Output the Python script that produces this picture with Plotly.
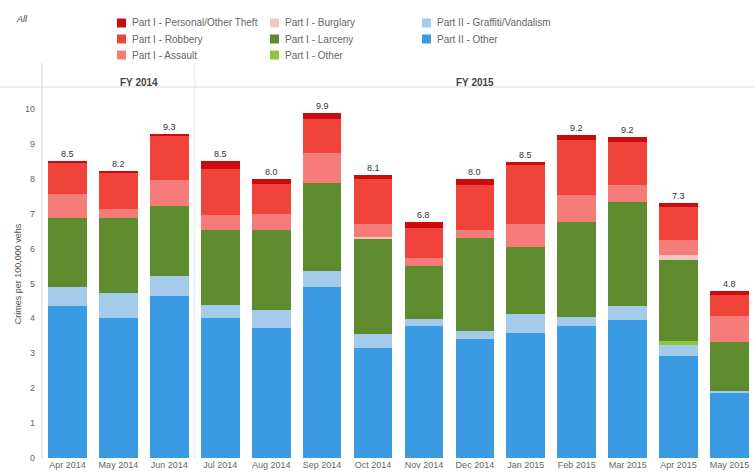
import plotly.graph_objects as go

months = ["Apr 2014", "May 2014", "Jun 2014", "Jul 2014", "Aug 2014", "Sep 2014", "Oct 2014",
          "Nov 2014", "Dec 2014", "Jan 2015", "Feb 2015", "Mar 2015", "Apr 2015", "May 2015"]

# stacked from bottom to top
part2_other   = [4.36, 4.00, 4.64, 4.00, 3.72, 4.89, 3.14, 3.78, 3.40, 3.59, 3.78, 3.95, 2.92, 1.85]
part2_graffiti= [0.53, 0.72, 0.56, 0.38, 0.52, 0.48, 0.40, 0.19, 0.25, 0.53, 0.25, 0.39, 0.32, 0.07]
part1_other   = [0.00, 0.00, 0.00, 0.00, 0.00, 0.00, 0.00, 0.00, 0.00, 0.00, 0.00, 0.00, 0.10, 0.00]
part1_larceny = [1.98, 2.15, 2.03, 2.15, 2.29, 2.52, 2.75, 1.53, 2.64, 1.93, 2.72, 2.99, 2.33, 1.41]
part1_burglary= [0.00, 0.00, 0.00, 0.00, 0.00, 0.00, 0.05, 0.00, 0.00, 0.00, 0.00, 0.00, 0.15, 0.00]
part1_assault = [0.69, 0.26, 0.74, 0.43, 0.46, 0.84, 0.36, 0.22, 0.24, 0.65, 0.79, 0.49, 0.43, 0.74]
part1_robbery = [0.88, 1.06, 1.24, 1.32, 0.85, 0.97, 1.29, 0.87, 1.29, 1.70, 1.57, 1.24, 0.95, 0.60]
part1_personal= [0.07, 0.03, 0.07, 0.24, 0.15, 0.18, 0.12, 0.17, 0.17, 0.09, 0.13, 0.12, 0.10, 0.12]

series = [
    ("Part II - Other", part2_other, "#3a9be2"),
    ("Part II - Graffiti/Vandalism", part2_graffiti, "#a5cbea"),
    ("Part I - Other", part1_other, "#8dc63f"),
    ("Part I - Larceny", part1_larceny, "#5e8b2e"),
    ("Part I - Burglary", part1_burglary, "#f6c4c4"),
    ("Part I - Assault", part1_assault, "#f57c78"),
    ("Part I - Robbery", part1_robbery, "#f0443a"),
    ("Part I - Personal/Other Theft", part1_personal, "#cc0c0c"),
]

legend_cols = [
    ["Part I - Personal/Other Theft", "Part I - Robbery", "Part I - Assault"],
    ["Part I - Burglary", "Part I - Larceny", "Part I - Other"],
    ["Part II - Graffiti/Vandalism", "Part II - Other"],
]

fiscal_years = ["FY 2014", "FY 2015"]
fy_counts = [3, 11]

W, H = 755, 473
L, R, T, B = 42, 0, 90, 15
PW, PH = W - L - R, H - T - B

def px(X):
    return (X - L) / PW

def py(Y):
    return (H - B - Y) / PH

fig = go.Figure()
for name, vals, col in series:
    fig.add_trace(go.Bar(x=months, y=vals, name=name, marker=dict(color=col, line=dict(width=0)),
                         showlegend=False))

totals = [sum(v[i] for _, v, _ in series) for i in range(len(months))]
annotations = []
for m, t in zip(months, totals):
    annotations.append(dict(x=m, y=t, text=f"{t:.1f}", showarrow=False, yshift=7,
                            font=dict(size=9, color="#333333", family="Arial")))

shapes = []
# header area
shapes.append(dict(type="line", xref="paper", yref="paper", x0=px(0), x1=1, y0=py(87), y1=py(87),
                   line=dict(color="#d9d9d9", width=1)))
shapes.append(dict(type="line", xref="paper", yref="paper", x0=0, x1=0, y0=0, y1=py(63),
                   line=dict(color="#d9d9d9", width=1)))
start = 0
for fy, n in zip(fiscal_years, fy_counts):
    x0 = start - 0.5
    x1 = start + n - 0.5
    annotations.append(dict(xref="paper", yref="paper", x=((x0 + x1) / 2 + 0.5) / len(months), y=py(75),
                            text=f"<b>{fy}</b>", showarrow=False,
                            font=dict(size=10, color="#444444", family="Arial")))
    if start > 0:
        shapes.append(dict(type="line", xref="paper", yref="paper",
                           x0=(x0 + 0.5) / len(months), x1=(x0 + 0.5) / len(months), y0=0, y1=py(63),
                           line=dict(color="#e3e3e3", width=1)))
    start += n

# legend
col_map = {n: c for n, _, c in series}
leg_x = [117, 270, 422]
leg_y = [23, 39, 55]
for ci, items in enumerate(legend_cols):
    for ri, name in enumerate(items):
        X, Y = leg_x[ci], leg_y[ri]
        shapes.append(dict(type="rect", xref="paper", yref="paper", x0=px(X), x1=px(X + 9),
                           y0=py(Y + 4.5), y1=py(Y - 4.5), fillcolor=col_map[name], line=dict(width=0)))
        annotations.append(dict(xref="paper", yref="paper", x=px(X + 13), y=py(Y), text=name,
                                showarrow=False, xanchor="left", yanchor="middle",
                                font=dict(size=10, color="#666666", family="Arial")))

annotations.append(dict(xref="paper", yref="paper", x=px(14), y=py(19), text="<i>All</i>",
                        showarrow=False, xanchor="left", yanchor="middle",
                        font=dict(size=9, color="#444444", family="Arial")))

fig.update_layout(
    width=W, height=H, barmode="stack", bargap=0.24,
    margin=dict(l=L, r=R, t=T, b=B),
    plot_bgcolor="white", paper_bgcolor="white",
    annotations=annotations, shapes=shapes,
    font=dict(family="Arial", size=9, color="#666666"),
    xaxis=dict(range=[-0.5, 13.5], showgrid=False, showline=False, ticks="",
               tickfont=dict(size=9, color="#666666"), zeroline=False),
    yaxis=dict(range=[0, 10.54], tickvals=list(range(0, 11)), showgrid=False, zeroline=False,
               showline=False, ticks="", tickfont=dict(size=9, color="#666666"), ticklabelstandoff=6,
               title=dict(text="Crimes per 100,000 vehs", font=dict(size=9, color="#555555"), standoff=1)),
)

fig.write_html("out.html")
